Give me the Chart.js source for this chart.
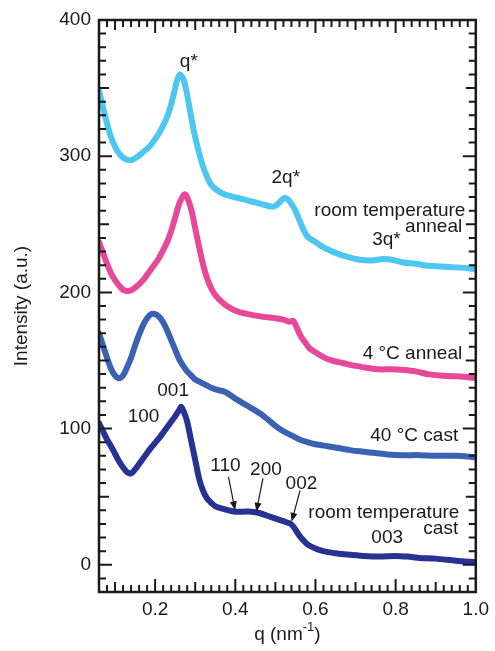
<!DOCTYPE html>
<html lang="en">
<head>
<meta charset="UTF-8">
<title>SAXS profiles</title>
<script src="https://cdn.jsdelivr.net/npm/chart.js"></script>
<style>
  html, body { margin: 0; padding: 0; background: #fff; }
</style>
</head>
<body>
<canvas id="saxs" width="495" height="651"></canvas>
<script>
// q in nm^-1, intensity in a.u. (curves are offset vertically as in the figure)
const qAnnealRT = [0.06,0.07,0.08,0.09,0.10,0.11,0.12,0.13,0.14,0.15,0.16,0.17,0.18,0.19,0.20,0.21,0.22,0.23,0.24,0.25,0.255,0.262,0.27,0.278,0.285,0.293,0.30,0.31,0.32,0.33,0.34,0.355,0.37,0.39,0.41,0.43,0.45,0.47,0.49,0.50,0.51,0.52,0.53,0.54,0.55,0.56,0.57,0.58,0.60,0.62,0.65,0.68,0.71,0.74,0.77,0.79,0.82,0.85,0.88,0.91,0.94,0.97,1.0];
const iAnnealRT = [348,336,324,314,307,302,299,297.5,297,298.5,300.5,303,305.5,308.5,312.5,317,322.5,329,338,350,356,360,357,348,337,324,314,302,292,284.5,279,275,272.5,270.5,269,267.5,266,264.5,263,263.5,266,269,268.5,265,260,253,246,241,237,233,229,226,224,223.5,224.5,224,222,221,219.5,219,218.5,218,217];

const qAnneal4C = [0.06,0.07,0.08,0.09,0.10,0.11,0.12,0.13,0.14,0.15,0.16,0.17,0.18,0.19,0.20,0.21,0.22,0.23,0.24,0.25,0.26,0.27,0.275,0.28,0.29,0.30,0.31,0.32,0.33,0.34,0.35,0.37,0.39,0.41,0.44,0.47,0.50,0.52,0.535,0.545,0.555,0.565,0.575,0.585,0.60,0.62,0.64,0.67,0.70,0.73,0.76,0.79,0.82,0.85,0.88,0.91,0.94,0.97,1.0];
const iAnneal4C = [237,229,221,214,209,205,202,201,201.5,203.5,206,209,213,217,221,225.5,231,237,245,255,265,271,272,270,261,247,233,220,210,203,198,192,188,185.5,183.5,182,181,180,178.5,179,173,167,163,159,156,152.5,150,148,146,144.5,143.5,143.5,143,142,140,139,138.5,138,137];

const qCast40C = [0.06,0.07,0.08,0.09,0.10,0.11,0.12,0.13,0.14,0.15,0.16,0.17,0.18,0.19,0.20,0.21,0.22,0.23,0.24,0.25,0.26,0.27,0.28,0.29,0.30,0.32,0.34,0.36,0.37,0.38,0.40,0.42,0.44,0.46,0.48,0.50,0.52,0.54,0.56,0.58,0.60,0.63,0.66,0.69,0.72,0.75,0.78,0.82,0.86,0.90,0.95,1.0];
const iCast40C = [170,161,152,144,139,137,139,145,152,161,169,176,181,184,184,182,178,172,165,158,151,146,142,139,136,133,130,128,127.5,126,122,118.5,115,111.5,107,102,98,95,92,90,88.5,87,85.5,84,83,82,81,80.5,80.5,80,80,79];

const qCastRT = [0.06,0.07,0.08,0.09,0.10,0.11,0.12,0.13,0.14,0.15,0.16,0.17,0.18,0.19,0.20,0.21,0.22,0.23,0.24,0.25,0.26,0.265,0.272,0.28,0.29,0.30,0.31,0.32,0.33,0.35,0.37,0.39,0.40,0.42,0.44,0.46,0.48,0.50,0.52,0.535,0.545,0.555,0.565,0.58,0.60,0.62,0.65,0.68,0.72,0.76,0.80,0.83,0.86,0.90,0.95,1.0];
const iCastRT = [104,98,92,87,81.5,76,71.5,68,67,70,74,78,82,86,89.5,93,97,101,105,109,113.5,116,112,105,91,77,63,54,48.5,43,41,39.5,39,39,39,38,36,34,32,30.5,28,23.5,19.5,15,12,10,8.5,7.5,6.5,6,6.5,6,5,4.5,3,2];

const xTicks = [0.2, 0.4, 0.6, 0.8, 1.0];
const yTicks = [0, 100, 200, 300, 400];

const FONT = '"Liberation Sans", Arial, Helvetica, sans-serif';
const INK = '#1a1a1a';

// peak labels and sample names, placed in data units
const notes = [
    { text: 'q*', q: 0.284, i: 369, align: 'center' },
    { text: '2q*', q: 0.526, i: 284, align: 'center' },
    { text: 'room temperature', q: 0.974, i: 260, align: 'right' },
    { text: 'anneal', q: 0.966, i: 248, align: 'right' },
    { text: '3q*', q: 0.777, i: 239, align: 'center' },
    { text: '4 °C anneal', q: 0.966, i: 155, align: 'right' },
    { text: '40 °C cast', q: 0.956, i: 95, align: 'right' },
    { text: '001', q: 0.245, i: 127.5, align: 'center' },
    { text: '100', q: 0.171, i: 109, align: 'center' },
    { text: '110', q: 0.3755, i: 72.5, align: 'center' },
    { text: '200', q: 0.4765, i: 70, align: 'center' },
    { text: '002', q: 0.565, i: 59.5, align: 'center' },
    { text: 'room temperature', q: 0.959, i: 38, align: 'right' },
    { text: 'cast', q: 0.956, i: 26.5, align: 'right' },
    { text: '003', q: 0.779, i: 20, align: 'center' }
];
const arrows = [
    { from: [0.383, 64.5], to: [0.3995, 40] },
    { from: [0.469, 63.5], to: [0.4525, 39] },
    { from: [0.5615, 54.5], to: [0.5405, 31.5] }
];

function toPoints(qs, is) {
    return qs.map((q, k) => ({ x: q, y: is[k] }));
}

function series(label, qs, is, color) {
    return {
        label: label,
        data: toPoints(qs, is),
        borderColor: color,
        backgroundColor: color,
        borderWidth: 6,
        pointRadius: 0,
        tension: 0.3,
        borderCapStyle: 'round',
        borderJoinStyle: 'round',
        fill: false
    };
}

// box frame, inward ticks on all four sides, notes, arrows and axis titles
const framePlugin = {
    id: 'frame',
    afterDatasetsDraw(chart) {
        const { ctx, chartArea: a, scales: { x, y } } = chart;
        ctx.save();
        ctx.strokeStyle = INK;
        ctx.lineWidth = 2.5;
        ctx.strokeRect(a.left, a.top, a.right - a.left, a.bottom - a.top);

        ctx.lineWidth = 2;
        ctx.beginPath();
        for (let k = 4; k < 50; k++) {
            const px = x.getPixelForValue(k / 50);
            const len = k % 10 === 0 ? 13 : (k % 5 === 0 ? 10 : 7);
            ctx.moveTo(px, a.bottom); ctx.lineTo(px, a.bottom - len);
            ctx.moveTo(px, a.top); ctx.lineTo(px, a.top + len);
        }
        for (let v = -10; v < 400; v += 10) {
            const py = y.getPixelForValue(v);
            const len = v % 100 === 0 ? 13 : (v % 50 === 0 ? 10 : 7);
            ctx.moveTo(a.left, py); ctx.lineTo(a.left + len, py);
            ctx.moveTo(a.right, py); ctx.lineTo(a.right - len, py);
        }
        ctx.stroke();

        ctx.fillStyle = INK;
        ctx.font = '19px ' + FONT;
        ctx.textBaseline = 'middle';
        notes.forEach(n => {
            ctx.textAlign = n.align;
            ctx.fillText(n.text, x.getPixelForValue(n.q), y.getPixelForValue(n.i));
        });

        ctx.lineWidth = 1.2;
        arrows.forEach(ar => {
            const x0 = x.getPixelForValue(ar.from[0]), y0 = y.getPixelForValue(ar.from[1]);
            const x1 = x.getPixelForValue(ar.to[0]), y1 = y.getPixelForValue(ar.to[1]);
            const ang = Math.atan2(y1 - y0, x1 - x0);
            ctx.beginPath();
            ctx.moveTo(x0, y0);
            ctx.lineTo(x1 - 6 * Math.cos(ang), y1 - 6 * Math.sin(ang));
            ctx.stroke();
            ctx.beginPath();
            ctx.moveTo(x1, y1);
            ctx.lineTo(x1 - 9 * Math.cos(ang) + 3.5 * Math.sin(ang), y1 - 9 * Math.sin(ang) - 3.5 * Math.cos(ang));
            ctx.lineTo(x1 - 9 * Math.cos(ang) - 3.5 * Math.sin(ang), y1 - 9 * Math.sin(ang) + 3.5 * Math.cos(ang));
            ctx.closePath();
            ctx.fill();
        });

        // x title with superscript
        const base = '19px ' + FONT, sup = '13px ' + FONT;
        ctx.font = base;
        const w1 = ctx.measureText('q (nm').width, w3 = ctx.measureText(')').width;
        ctx.font = sup;
        const w2 = ctx.measureText('-1').width;
        let tx = (a.left + a.right) / 2 - (w1 + w2 + w3) / 2;
        const ty = 640;
        ctx.textAlign = 'left';
        ctx.textBaseline = 'alphabetic';
        ctx.font = base; ctx.fillText('q (nm', tx, ty); tx += w1;
        ctx.font = sup; ctx.fillText('-1', tx, ty - 9); tx += w2;
        ctx.font = base; ctx.fillText(')', tx, ty);

        // y title
        ctx.translate(22, (a.top + a.bottom) / 2);
        ctx.rotate(-Math.PI / 2);
        ctx.textAlign = 'center';
        ctx.textBaseline = 'middle';
        ctx.font = base;
        ctx.fillText('Intensity (a.u.)', 0, 0);
        ctx.restore();
    }
};

const tickFont = { family: FONT, size: 19 };

new Chart(document.getElementById('saxs'), {
    type: 'line',
    data: {
        datasets: [
            series('room temperature anneal', qAnnealRT, iAnnealRT, '#4dc6f0'),
            series('4 °C anneal', qAnneal4C, iAnneal4C, '#e8489a'),
            series('40 °C cast', qCast40C, iCast40C, '#3a62b2'),
            series('room temperature cast', qCastRT, iCastRT, '#283293')
        ]
    },
    options: {
        responsive: false,
        animation: false,
        devicePixelRatio: 1,
        layout: { padding: { top: 20, right: 14, left: 0, bottom: 0 } },
        plugins: { legend: { display: false }, tooltip: { enabled: false } },
        scales: {
            x: {
                type: 'linear',
                min: 0.06,
                max: 1.0,
                afterBuildTicks: s => { s.ticks = xTicks.map(v => ({ value: v })); },
                afterFit: s => { s.height = 59; },
                ticks: { padding: 6, color: INK, font: tickFont, maxRotation: 0, callback: v => v.toFixed(1) },
                grid: { display: false, drawTicks: false },
                border: { display: false }
            },
            y: {
                min: -20,
                max: 400,
                afterBuildTicks: s => { s.ticks = yTicks.map(v => ({ value: v })); },
                afterFit: s => { s.width = 99; },
                ticks: { padding: 8, color: INK, font: tickFont },
                grid: { display: false, drawTicks: false },
                border: { display: false }
            }
        }
    },
    plugins: [framePlugin]
});
</script>
</body>
</html>
